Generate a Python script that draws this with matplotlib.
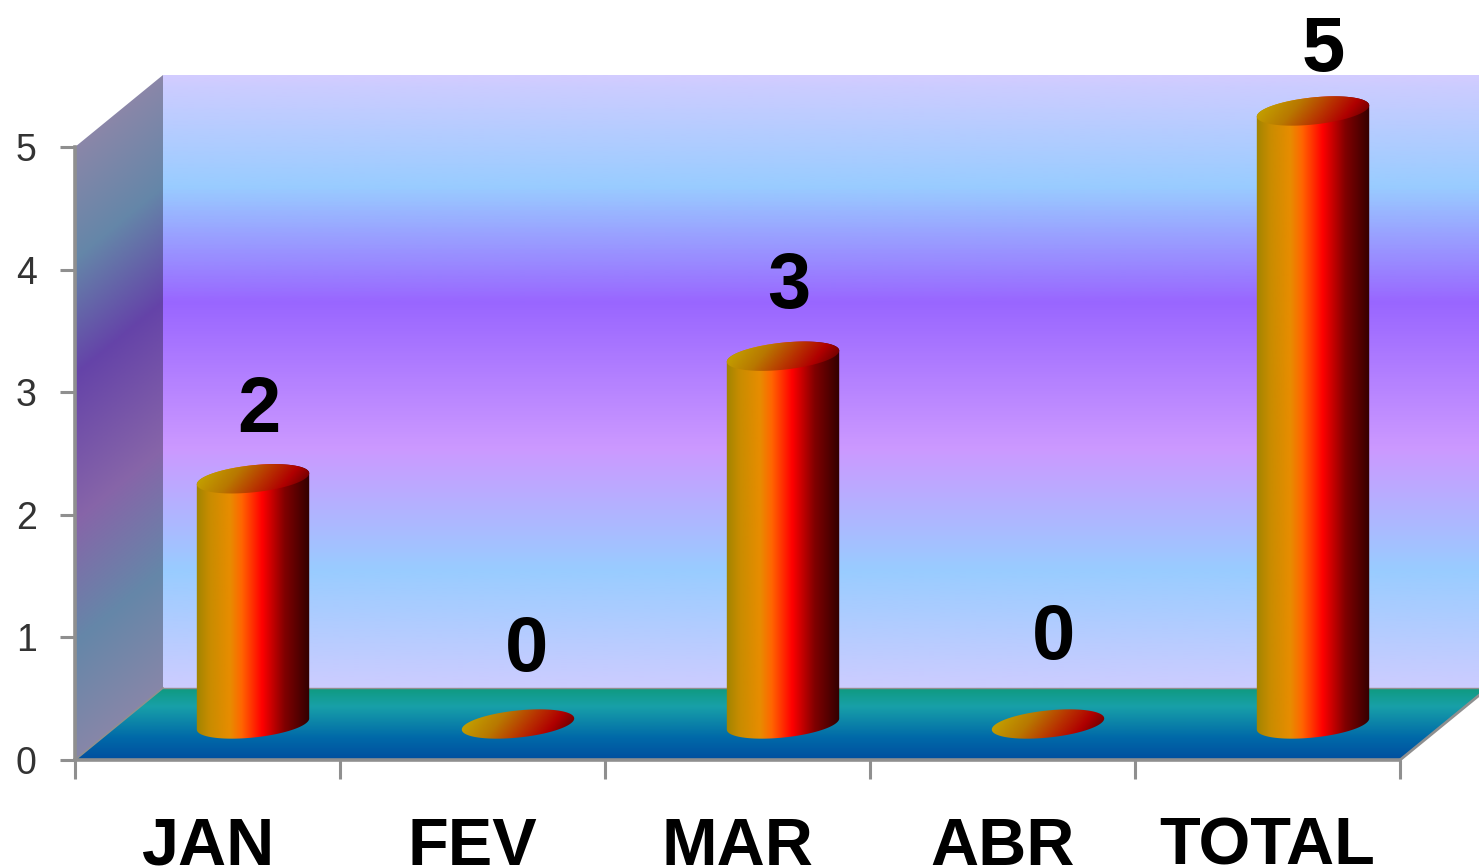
import numpy as np
import matplotlib
matplotlib.use('Agg')
import matplotlib.pyplot as plt
from matplotlib.colors import LinearSegmentedColormap
from matplotlib.patches import Polygon

# values
categories = ['JAN', 'FEV', 'MAR', 'ABR', 'TOTAL']
values = [2, 0, 3, 0, 5]
y_ticks = [0, 1, 2, 3, 4, 5]

# hand placed data labels in the original (pixels from bar top)
label_dx = [6, 9, 6, 6, 10]
label_dy = [73, 80, 75, 92, 67]

W, H = 1479, 868
LEFT, RIGHT, ZERO, FIVE = 75, 1400, 760, 147
PX_X = (RIGHT - LEFT) / len(categories)
PX_Y = (ZERO - FIVE) / 5
DX = 88 / PX_X   # depth of the box in data units
DY = 72 / PX_Y
GREY = '#8f8f8f'

wall_cmap = LinearSegmentedColormap.from_list('wall', [
    (0.0, '#ccccff'), (0.19, '#99ccff'), (0.39, '#cc99ff'),
    (0.63, '#9966ff'), (0.82, '#99ccff'), (0.985, '#ccccff'), (1.0, '#d2ccff')])
floor_cmap = LinearSegmentedColormap.from_list('floor', [
    (0.0, '#004f9f'), (0.3, '#0068a8'), (0.75, '#18a0a8'), (1.0, '#0f9a80')])
body_cmap = LinearSegmentedColormap.from_list('body', [
    (0.0, '#a08400'), (0.12, '#c88c00'), (0.3, '#e88c00'), (0.4, '#ff6600'),
    (0.58, '#ff0000'), (0.78, '#800000'), (1.0, '#300000')])
cap_cmap = LinearSegmentedColormap.from_list('cap', [
    (0.0, '#c8b400'), (0.35, '#b87800'), (0.58, '#b83000'), (0.75, '#b00000'), (1.0, '#400000')])


def shaded(ax, x0, x1, y0, y1, rgb, outline, zorder=1):
    # paint an rgb grid and clip it to the outline polygon
    clip = Polygon(outline, closed=True, transform=ax.transData)
    im = ax.imshow(rgb, extent=(x0, x1, y0, y1), origin='lower', aspect='auto',
                   interpolation='bilinear', zorder=zorder)
    im.set_clip_path(clip)
    im.set_clip_box(ax.figure.bbox)


def ellipse(cx, cy, t):
    # tilted ellipse of the cylinder ends, sized in pixels
    a, b, tilt = 56.5, 13.5, np.radians(6)
    px = a * np.cos(t) * np.cos(tilt) - b * np.sin(t) * np.sin(tilt)
    py = a * np.cos(t) * np.sin(tilt) + b * np.sin(t) * np.cos(tilt)
    return np.column_stack([cx + px / PX_X, cy + py / PX_Y])


def draw_cylinder(ax, x, value):
    base = DY / 2
    half = 57.0 / PX_X
    top = base + value
    if value > 0:
        lower = ellipse(x, base, np.linspace(np.pi, 2 * np.pi, 60))
        upper = ellipse(x, top, np.linspace(0, np.pi, 60))
        grid = np.linspace(0, 1, 256).reshape(1, -1)
        shaded(ax, x - half, x + half, base - 0.2, top + 0.2,
               body_cmap(grid)[:, :, :3], np.vstack([lower, upper]), zorder=3)
    # end cap, the gradient runs across it at a slant
    xx, yy = np.meshgrid(np.linspace(0, 1, 120), np.linspace(0, 1, 40))
    cap = cap_cmap(np.clip(0.8 * xx + 0.2 * (1 - yy), 0, 1))[:, :, :3]
    h = 18 / PX_Y
    shaded(ax, x - half, x + half, top - h, top + h, cap,
           ellipse(x, top, np.linspace(0, 2 * np.pi, 120)), zorder=3.1)


plt.rcParams['font.family'] = ['Liberation Sans', 'DejaVu Sans']
fig = plt.figure(figsize=(W / 100, H / 100), dpi=100, facecolor='white')
ax = fig.add_axes([LEFT / W, 1 - ZERO / H, (RIGHT - LEFT) / W, (ZERO - FIVE) / H])
ax.patch.set_visible(False)
n = len(categories)
xlim = (-0.5, n - 0.5)
ylim = (0, 5)

# back wall
rows = np.linspace(0, 1, 400).reshape(-1, 1)
shaded(ax, xlim[0] + DX, xlim[1] + DX, DY, 5 + DY, wall_cmap(rows)[:, :, :3],
       [(xlim[0] + DX, DY), (xlim[1] + DX, DY), (xlim[1] + DX, 5 + DY), (xlim[0] + DX, 5 + DY)])

# left wall: same colours, darker, sheared by the depth
depth, height = np.meshgrid(np.linspace(0, 1, 90), np.linspace(0, 5 + DY, 500))
frac = np.clip((height - depth * DY) / 5, 0, 1)
side = wall_cmap(frac)[:, :, :3] * 0.66
shaded(ax, xlim[0], xlim[0] + DX, 0, 5 + DY, side,
       [(xlim[0], 0), (xlim[0] + DX, DY), (xlim[0] + DX, 5 + DY), (xlim[0], 5)])

# floor
rows = np.linspace(0, 1, 100).reshape(-1, 1)
floor_pts = [(xlim[0], 0), (xlim[1], 0), (xlim[1] + DX, DY), (xlim[0] + DX, DY)]
shaded(ax, xlim[0], xlim[1] + DX, 0, DY, floor_cmap(rows)[:, :, :3], floor_pts)
ax.plot([xlim[0], xlim[0] + DX], [0, DY], color=GREY, lw=1.2, clip_on=False, zorder=1.5)
ax.plot([xlim[1], xlim[1] + DX], [0, DY], color=GREY, lw=2, clip_on=False, zorder=1.5)
ax.plot([xlim[0] + DX, xlim[1] + DX], [DY, DY], color=GREY, lw=1, clip_on=False, zorder=1.5)

# cylinders and data labels
for i, v in enumerate(values):
    x = i + DX / 2 + 1.5 / PX_X
    draw_cylinder(ax, x, v)
    ax.annotate(str(v), xy=(x, v + DY / 2), xytext=(label_dx[i], label_dy[i] - 6),
                textcoords='offset pixels', ha='center', va='center',
                fontsize=56, fontweight='bold', color='black',
                annotation_clip=False, zorder=5)

ax.set_xlim(xlim)
ax.set_ylim(ylim)

for side_name in ('top', 'right'):
    ax.spines[side_name].set_visible(False)
for side_name in ('left', 'bottom'):
    ax.spines[side_name].set_color(GREY)
    ax.spines[side_name].set_linewidth(2.6)

ax.set_yticks(y_ticks)
ax.set_yticklabels([str(t) for t in y_ticks])
ax.tick_params(axis='y', length=10.5, width=2.2, color=GREY, pad=17,
               labelsize=27, labelcolor='#333333')
ax.set_xticks(np.arange(n + 1) - 0.5)
ax.set_xticklabels([])
ax.set_xticks(np.arange(n), minor=True)
ax.set_xticklabels(categories, minor=True, fontsize=48, fontweight='bold', color='black')
ax.tick_params(axis='x', which='major', length=14, width=2.2, color=GREY)
ax.tick_params(axis='x', which='minor', length=0, pad=41)

fig.savefig('out.png', dpi=100)
